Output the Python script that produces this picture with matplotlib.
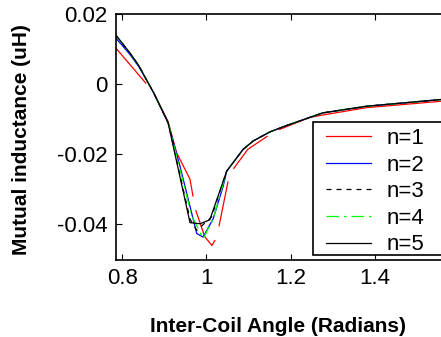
import numpy as np
import matplotlib
matplotlib.use("Agg")
import matplotlib.pyplot as plt
from matplotlib.patches import Rectangle

plt.rcParams['font.family'] = ['Liberation Sans', 'DejaVu Sans']

nan = np.nan

# n=1 (red) - has gaps in the data
x1 = [0.785, 0.856, nan, 0.874, 0.909, 0.929, 0.961, 0.968, nan, 0.975, 0.996, 1.013, 1.020, nan,
      1.030, 1.051, nan, 1.065, 1.098, 1.144, nan, 1.174, 1.245, 1.276, 1.380, 1.555, 1.571]
y1 = [0.0103, 0.0003, nan, -0.0022, -0.0107, -0.0195, -0.0271, -0.0319, nan, -0.0361, -0.0435, -0.0460, -0.0446, nan,
      -0.0404, -0.0279, nan, -0.0240, -0.0186, -0.0149, nan, -0.0129, -0.0095, -0.0088, -0.0067, -0.0049, -0.0048]

# n=2 (blue)
x2 = [0.785, 0.802, 0.819, 0.840, 0.858, 0.874, 0.909, 0.937, 0.977, 0.992, 1.016, 1.040, 1.048, 1.087, 1.111, 1.151, 1.190, 1.276, 1.380, 1.555, 1.571]
y2 = [0.0131, 0.0108, 0.0084, 0.0049, 0.0011, -0.0023, -0.0110, -0.0233, -0.0426, -0.0436, -0.0384, -0.0290, -0.0248, -0.0186, -0.0162, -0.0136, -0.0118, -0.0082, -0.0063, -0.0044, -0.0043]

# n=3 (black dashed)
x3 = [0.785, 0.802, 0.819, 0.840, 0.858, 0.874, 0.909, 0.961, 0.977, 1.012, 1.048, 1.087, 1.111, 1.151, 1.190, 1.276, 1.380, 1.555, 1.571]
y3 = [0.0139, 0.0114, 0.0088, 0.0052, 0.0012, -0.0023, -0.0110, -0.0385, -0.0417, -0.0379, -0.0248, -0.0186, -0.0162, -0.0136, -0.0118, -0.0082, -0.0063, -0.0044, -0.0043]

# n=4 (green dash-dot)
x4 = [0.785, 0.802, 0.819, 0.840, 0.858, 0.874, 0.909, 0.965, 0.992, 1.016, 1.048, 1.087, 1.111, 1.151, 1.190, 1.276, 1.380, 1.555, 1.571]
y4 = [0.0140, 0.0114, 0.0088, 0.0052, 0.0012, -0.0023, -0.0110, -0.0375, -0.0441, -0.0384, -0.0248, -0.0186, -0.0162, -0.0136, -0.0118, -0.0082, -0.0063, -0.0044, -0.0043]

# n=5 (black solid)
x5 = [0.785, 0.802, 0.819, 0.840, 0.858, 0.874, 0.909, 0.961, 0.985, 1.008, 1.048, 1.087, 1.111, 1.151, 1.190, 1.276, 1.380, 1.555, 1.571]
y5 = [0.0140, 0.0114, 0.0088, 0.0052, 0.0012, -0.0023, -0.0110, -0.0395, -0.0398, -0.0387, -0.0248, -0.0186, -0.0162, -0.0136, -0.0118, -0.0082, -0.0063, -0.0044, -0.0043]

labels = ['n=1', 'n=2', 'n=3', 'n=4', 'n=5']
xticks = [0.8, 1.0, 1.2, 1.4]
xticklabels = ['0.8', '1', '1.2', '1.4']
yticks = [-0.04, -0.02, 0.0, 0.02]
yticklabels = ['-0.04', '-0.02', '0', '0.02']

W, H = 441, 337
fig = plt.figure(figsize=(W / 100, H / 100), dpi=100)
ax = fig.add_axes([116 / W, (H - 259.5) / H, (447 - 116) / W, (259.5 - 14) / H])

lw = 0.9
ax.plot(x1, y1, color='#ff0000', lw=lw, label=labels[0])
ax.plot(x2, y2, color='#0000ff', lw=lw, label=labels[1])
ax.plot(x3, y3, color='black', lw=lw, ls=(0, (4, 4)), label=labels[2])
ax.plot(x4, y4, color='#00ff00', lw=lw, ls=(0, (10, 4, 2, 4)), label=labels[3])
ax.plot(x5, y5, color='black', lw=lw, label=labels[4])

ax.set_xlim(np.pi / 4, np.pi / 2)
ax.set_ylim(-0.05, 0.02)
ax.set_xticks(xticks)
ax.set_xticklabels(xticklabels)
ax.set_yticks(yticks)
ax.set_yticklabels(yticklabels)
ax.tick_params(direction='in', length=4, width=0.8, top=True, right=True,
               labelsize=16, pad=6)
for s in ax.spines.values():
    s.set_linewidth(1.2)

ax.set_xlabel('Inter-Coil Angle (Radians)', fontsize=15, fontweight='bold')
ax.set_ylabel('Mutual inductance (uH)', fontsize=15, fontweight='bold')
ax.xaxis.set_label_coords((278.5 - 116) / 331, -0.234)
ax.yaxis.set_label_coords(-0.257, 0.487)

# legend frame drawn manually (extends past the figure edge as in reference)
rect = Rectangle((313 / W, (H - 255) / H), 160 / W, 133 / H, transform=fig.transFigure,
                 facecolor='white', edgecolor='black', lw=1.2, zorder=5)
fig.patches.append(rect)
leg = fig.legend(loc='upper left', bbox_to_anchor=(315 / W, (H - 117) / H),
                 frameon=False, fontsize=16, handlelength=2.0, handletextpad=0.7,
                 labelspacing=0.25, borderpad=0.0)
leg.set_zorder(6)

fig.savefig('out.png', dpi=100)
